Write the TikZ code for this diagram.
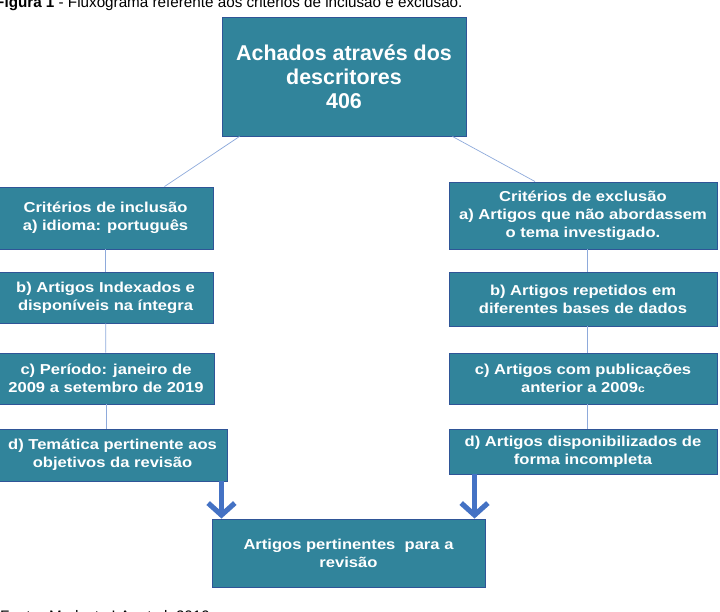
\documentclass[tikz,border=0pt]{standalone}
\usepackage{fontspec}
\setmainfont{Liberation Sans}
\newfontfamily\boxfont[FakeStretch=1.15]{Liberation Sans}
\usetikzlibrary{calc,arrows.meta}
\definecolor{boxfill}{RGB}{49,132,155}
\definecolor{boxline}{RGB}{47,85,151}
\definecolor{linkline}{RGB}{142,170,219}
\definecolor{arrowblue}{RGB}{68,114,196}
\tikzset{
	critbox/.style={draw=boxline, line width=0.8pt, fill=boxfill, text=white, align=center,
		inner sep=0pt, font=\boxfont\bfseries\fontsize{12.3}{15.5}\selectfont},
	topbox/.style={critbox, font=\bfseries\fontsize{18.3}{20.6}\selectfont},
	link/.style={draw=linkline, line width=0.6pt},
	downarrow/.style={draw=arrowblue, line width=4.4pt, -{Straight Barb[length=3.6mm,width=8mm]}},
	caption/.style={inner sep=0pt, font=\fontsize{13}{15}\selectfont}
}

\begin{document}
\begin{tikzpicture}[x=0.03cm, y=-0.03cm]
			%%%%% START %%%%%
			
			\clip (0, 0) rectangle (720, 612);
			
			\node[caption, anchor=base west] (fig) at (-5, 7) {\textbf{Figura 1} - Fluxograma referente aos critérios de inclusão e exclusão.};
			
			\node[topbox, minimum width=7.32cm, minimum height=3.57cm] (achados) at (344, 76.5) {Achados através dos\\descritores\\406};
			
			\node[critbox, minimum width=6.45cm, minimum height=1.86cm] (inclA) at (105.5, 218) {Critérios de inclusão\\a) idioma: português};
			\node[critbox, minimum width=6.45cm, minimum height=1.53cm] (inclB) at (105.5, 297.5) {b) Artigos Indexados e\\disponíveis na íntegra};
			\node[critbox, minimum width=6.48cm, minimum height=1.53cm] (inclC) at (106, 378.5) {c) Período: janeiro de\\2009 a setembro de 2019};
			\node[critbox, minimum width=6.87cm, minimum height=1.56cm] (inclD) at (112.5, 455) {d) Temática pertinente aos\\objetivos da revisão};
			
			\node[critbox, minimum width=8.04cm, minimum height=2.01cm] (exclA) at (583, 215.5) {Critérios de exclusão\\a) Artigos que não abordassem\\o tema investigado.};
			\node[critbox, minimum width=8.04cm, minimum height=1.62cm] (exclB) at (583, 299) {b) Artigos repetidos em\\diferentes bases de dados};
			\node[critbox, minimum width=8.04cm, minimum height=1.53cm] (exclC) at (583, 378.5) {c) Artigos com publicações\\anterior a 2009{\fontsize{9}{10}\selectfont c}};
			\node[critbox, minimum width=8.04cm, minimum height=1.35cm] (exclD) at (583, 451.5) {d) Artigos disponibilizados de\\forma incompleta};
			
			\node[critbox, minimum width=8.19cm, minimum height=2.04cm] (final) at (348.5, 553) {Artigos pertinentes~ para a\\revisão};
			
			\node[caption, anchor=base west] (fonte) at (0, 621) {Fonte: Modesto LA, et al, 2019};
			
			% thin links
			\draw[link] ([xshift=0.54cm]achados.south west) -- ([xshift=1.77cm]inclA.north);
			\draw[link] ([xshift=-0.42cm]achados.south east) -- ([xshift=-1.44cm]exclA.north);
			\draw[link] (inclA) -- (inclB);
			\draw[link] (inclB) -- (inclC);
			\draw[link] (inclC.south) -- (inclC.south |- inclD.north);
			\draw[link] ([xshift=0.12cm]exclA.south) -- ([xshift=0.12cm]exclB.north);
			\draw[link] ([xshift=0.12cm]exclB.south) -- ([xshift=0.12cm]exclC.north);
			\draw[link] ([xshift=0.12cm]exclC.south) -- ([xshift=0.12cm]exclD.north);
			
			% arrows into the result
			\coordinate (leftfoot) at ([xshift=-0.18cm]inclD.south east);
			\coordinate (rightfoot) at ([xshift=0.78cm]exclD.south west);
			\draw[downarrow] (leftfoot) -- (leftfoot |- final.north);
			\draw[downarrow] (rightfoot) -- (rightfoot |- final.north);
			
			%%%%% END %%%%%
		\end{tikzpicture}
\end{document}
